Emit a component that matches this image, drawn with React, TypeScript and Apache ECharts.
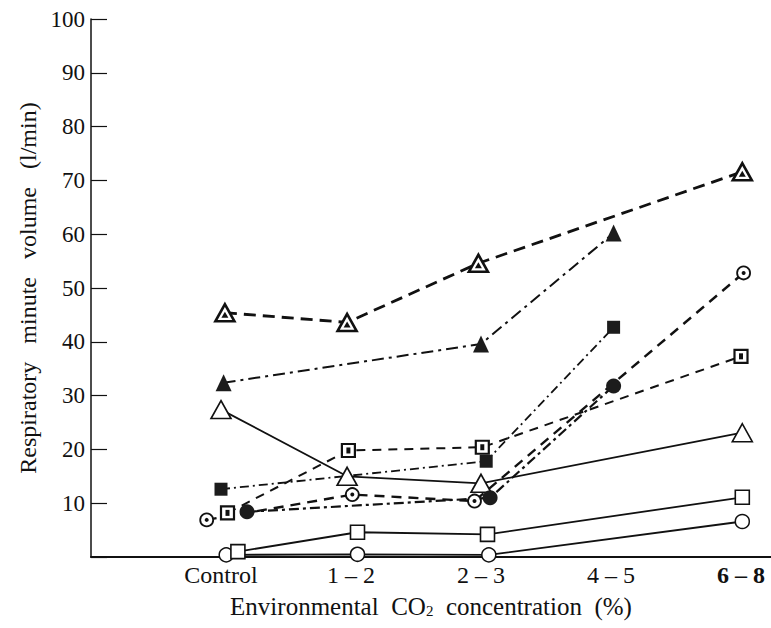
import React, { useEffect, useRef } from 'react';
import * as echarts from 'echarts';

const categories = ['Control', '1 – 2', '2 – 3', '4 – 5', '6 – 8'];
const yTickMin = 0;
const yTickMax = 100;
const yTickStep = 10;

// values (l/min) per category; null = not measured
const openCircle = [0.4, 0.5, 0.4, null, 6.6];
const openSquare = [1.0, 4.6, 4.2, null, 11.1];
const openTriangle = [27.4, 15.0, 13.7, null, 23.1];
const dotCircle = [6.9, 11.6, 10.4, null, 52.8];
const dotSquare = [8.2, 19.8, 20.4, null, 37.3];
const dotTriangle = [45.4, 43.6, 54.6, null, 71.6];
const filledCircle = [8.4, null, 11.0, 31.8, null];
const filledSquare = [12.6, null, 17.8, 42.7, null];
const filledTriangle = [32.4, null, 39.6, 60.2, null];

// small horizontal displacement (category units) of crowded markers
const jitOpenCircle = [0.04, 0.05, 0.06, 0, 0.01];
const jitOpenSquare = [0.13, 0.05, 0.05, 0, 0.01];
const jitOpenTriangle = [0.0, -0.03, 0.0, 0, 0.01];
const jitDotCircle = [-0.11, 0.01, -0.05, 0, 0.02];
const jitDotSquare = [0.05, -0.02, 0.01, 0, 0.0];
const jitDotTriangle = [0.03, -0.03, -0.02, 0, 0.01];
const jitFilledCircle = [0.2, 0, 0.07, 0.02, 0];
const jitFilledSquare = [0.0, 0, 0.04, 0.02, 0];
const jitFilledTriangle = [0.02, 0, 0.0, 0.02, 0];

const FONT = 'Liberation Serif';
const INK = '#111';

function pts(vals: (number | null)[], jit: number[]) {
  const out: number[][] = [];
  vals.forEach((v, i) => {
    if (v != null) out.push([i + jit[i], v]);
  });
  return out;
}

export default function App() {
  const ref = useRef<HTMLDivElement>(null);
  useEffect(() => {
    document.body.style.margin = '0';
    const chart = echarts.init(ref.current!, null, { renderer: 'svg' });

    const groups = [
      { name: 'openCircle', vals: openCircle, jit: jitOpenCircle, line: { type: 'solid', width: 1.8 },
        outer: { symbol: 'circle', size: 14, fill: '#fff', border: 1.5 } },
      { name: 'openSquare', vals: openSquare, jit: jitOpenSquare, line: { type: 'solid', width: 1.8 },
        outer: { symbol: 'rect', size: 14, fill: '#fff', border: 1.6 } },
      { name: 'openTriangle', vals: openTriangle, jit: jitOpenTriangle, line: { type: 'solid', width: 1.8 },
        outer: { symbol: 'triangle', size: [20, 18], fill: '#fff', border: 1.6 } },
      { name: 'dotCircle', vals: dotCircle, jit: jitDotCircle, line: { type: [10, 7], width: 2.4 },
        outer: { symbol: 'circle', size: 13, fill: '#fff', border: 1.8 },
        inner: { symbol: 'circle', size: 4, offset: [0, 0] } },
      { name: 'dotSquare', vals: dotSquare, jit: jitDotSquare, line: { type: [9, 7], width: 2.0 },
        outer: { symbol: 'rect', size: 13, fill: '#fff', border: 2.2 },
        inner: { symbol: 'rect', size: [4, 6], offset: [0, 0] } },
      { name: 'dotTriangle', vals: dotTriangle, jit: jitDotTriangle, line: { type: [12, 7], width: 2.8 },
        outer: { symbol: 'triangle', size: [19, 17], fill: '#fff', border: 2.6 },
        inner: { symbol: 'triangle', size: [7, 6], offset: [0, 2] } },
      { name: 'filledCircle', vals: filledCircle, jit: jitFilledCircle, line: { type: [10, 4, 3, 4], width: 2.2 },
        outer: { symbol: 'circle', size: 15, fill: '#1c1c1c', border: 0 } },
      { name: 'filledSquare', vals: filledSquare, jit: jitFilledSquare, line: { type: [9, 4, 2, 4], width: 1.8 },
        outer: { symbol: 'rect', size: 13, fill: '#1c1c1c', border: 0 } },
      { name: 'filledTriangle', vals: filledTriangle, jit: jitFilledTriangle, line: { type: [12, 5, 3, 5], width: 2.0 },
        outer: { symbol: 'triangle', size: [16, 17], fill: '#1c1c1c', border: 0 } },
    ];

    const series: any[] = [];
    groups.forEach((g) => {
      const data = pts(g.vals, g.jit);
      series.push({
        type: 'line', name: g.name + '-line', data, symbol: 'none', z: 2,
        lineStyle: { color: INK, width: g.line.width, type: g.line.type },
        silent: true,
      });
      series.push({
        type: 'scatter', name: g.name, data, z: 3,
        symbol: g.outer.symbol, symbolSize: g.outer.size,
        itemStyle: { color: g.outer.fill, borderColor: INK, borderWidth: g.outer.border, opacity: 1 },
      });
      if ((g as any).inner) {
        const inn = (g as any).inner;
        series.push({
          type: 'scatter', name: g.name + '-inner', data, z: 4,
          symbol: inn.symbol, symbolSize: inn.size, symbolOffset: inn.offset,
          itemStyle: { color: INK, opacity: 1 },
        });
      }
    });

    chart.setOption({
      animation: false,
      backgroundColor: '#fff',
      grid: { left: 91, right: -100, top: 19, bottom: 71, containLabel: false, outerBoundsMode: 'none' },
      xAxis: {
        type: 'value', min: -1, max: 5, interval: 1,
        axisLine: { show: true, onZero: false, lineStyle: { color: INK, width: 2 } },
        axisTick: { show: false },
        splitLine: { show: false },
        axisLabel: {
          margin: 6,
          color: INK, fontFamily: FONT, fontSize: 24,
          formatter: (v: number) => {
            const c = categories[v];
            if (c == null) return '';
            return v === categories.length - 1 ? '{b|' + c + '}' : c;
          },
          rich: { b: { fontFamily: FONT, fontSize: 24, fontWeight: 'bold', color: INK } },
        },
      },
      yAxis: {
        type: 'value', min: yTickMin, max: yTickMax, interval: yTickStep,
        axisLine: { show: true, onZero: false, lineStyle: { color: INK, width: 1.5 } },
        axisTick: { show: true, inside: true, length: 16, lineStyle: { color: INK, width: 1.2 } },
        splitLine: { show: false },
        axisLabel: {
          margin: 6, color: INK, fontFamily: FONT, fontSize: 23,
          formatter: (v: number) => (v === 0 ? '' : String(v)),
        },
        name: 'Respiratory   minute   volume   (l/min)',
        nameLocation: 'middle', nameRotate: 90, nameGap: 46,
        nameTextStyle: { color: INK, fontFamily: FONT, fontSize: 24 },
      },
      graphic: [
        {
          type: 'text', x: 431, y: 606, z: 10,
          style: {
            text: '{a|Environmental  CO}{s|2}{a|  concentration  (%)}',
            align: 'center', verticalAlign: 'middle',
            rich: {
              a: { fontFamily: FONT, fontSize: 25, fill: INK },
              s: { fontFamily: FONT, fontSize: 15, fill: INK, padding: [10, 0, 0, 0] },
            },
          },
        },
      ],
      series,
    });
    return () => chart.dispose();
  }, []);
  return <div ref={ref} style={{ width: 771, height: 628 }} />;
}
